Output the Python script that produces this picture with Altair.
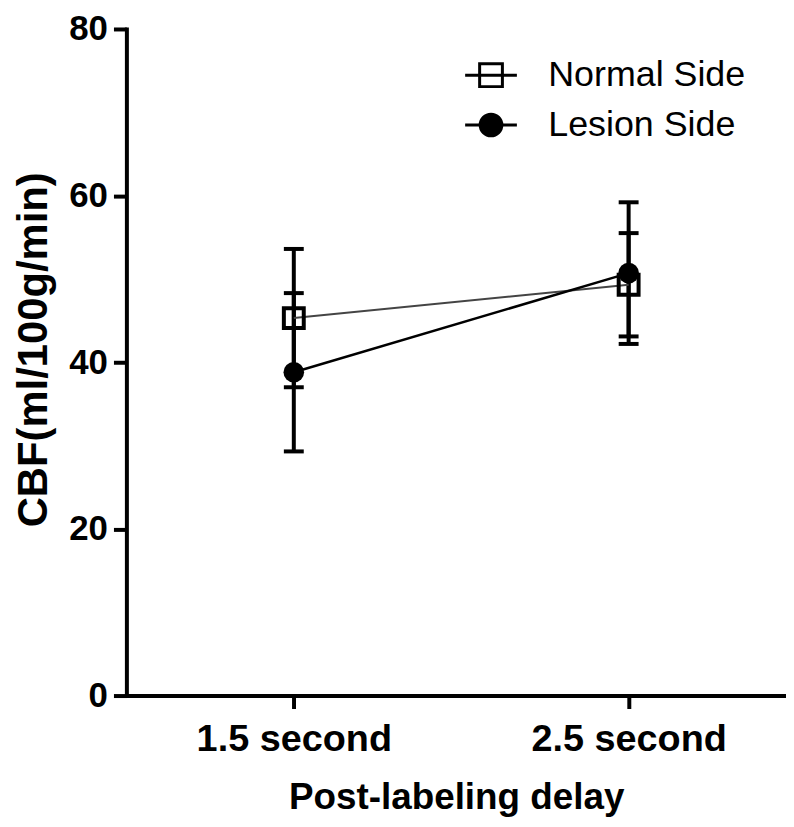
import altair as alt
import pandas as pd

# ---- data ----
delay = [1.5, 2.5]
series_names = ["Normal Side", "Lesion Side"]
normal_mean = [45.3, 49.3]
normal_sd = [8.3, 6.2]
lesion_mean = [38.8, 50.7]
lesion_sd = [9.5, 8.5]

rows = []
for name, means, sds in [("Normal Side", normal_mean, normal_sd),
                         ("Lesion Side", lesion_mean, lesion_sd)]:
    for d, m, s in zip(delay, means, sds):
        rows.append({"series": name, "delay": d, "mean": m, "low": m - s, "high": m + s})
df = pd.DataFrame(rows)

FONT = "Liberation Sans"

x_enc = alt.X(
    "delay:Q",
    scale=alt.Scale(domain=[1.0, 2.97], nice=False, zero=False),
    axis=alt.Axis(values=delay, labelExpr="datum.value + ' second'",
                  labelFontSize=38, titleFontSize=37, labelPadding=12,
                  titlePadding=22, labelFlush=False, labelLimit=0),
    title="Post-labeling delay",
)


def y_enc(field):
    return alt.Y(
        f"{field}:Q",
        scale=alt.Scale(domain=[0, 80], nice=False),
        axis=alt.Axis(values=[0, 20, 40, 60, 80], labelFontSize=35,
                      titleFontSize=42, labelPadding=6, titlePadding=13,
                      titleY=322, labelLimit=0),
        title="CBF(ml/100g/min)",
    )


base = alt.Chart(df)

err_rule = base.mark_rule(color="black", strokeWidth=4, opacity=1).encode(
    x=x_enc, y=y_enc("low"), y2="high:Q")
cap_low = base.mark_tick(color="black", orient="horizontal", size=20, thickness=4,
                         opacity=1).encode(x=x_enc, y=y_enc("low"))
cap_high = base.mark_tick(color="black", orient="horizontal", size=20, thickness=4,
                          opacity=1).encode(x=x_enc, y=y_enc("high"))

line_normal = base.transform_filter(alt.datum.series == "Normal Side").mark_line(
    color="#444444", strokeWidth=2).encode(x=x_enc, y=y_enc("mean"))
line_lesion = base.transform_filter(alt.datum.series == "Lesion Side").mark_line(
    color="black", strokeWidth=2.5).encode(x=x_enc, y=y_enc("mean"))

pt_normal = base.transform_filter(alt.datum.series == "Normal Side").mark_point(
    shape="square", size=400, filled=False, stroke="black", strokeWidth=4, opacity=1
).encode(x=x_enc, y=y_enc("mean"))
pt_lesion = base.transform_filter(alt.datum.series == "Lesion Side").mark_point(
    shape="circle", size=430, filled=True, color="black", opacity=1
).encode(x=x_enc, y=y_enc("mean"))

path_normal = "M-1,0H1M-0.44,-0.44H0.44V0.44H-0.44Z"
path_lesion = "M-1,0H1M-0.42,0A0.42,0.42,0,1,1,0.42,0A0.42,0.42,0,1,1,-0.42,0Z"

legend_props = dict(
    orient="none", legendX=339, legendY=19, title=None,
    symbolSize=2704, symbolStrokeWidth=3, symbolOpacity=1,
    labelFont=FONT, labelFontSize=36, labelFontWeight="normal",
    labelColor="black", labelOffset=30, rowPadding=4, padding=0, labelLimit=0,
)

# legend-only layer: draws no marks (all rows filtered out), keeps the legend
legend_layer = base.transform_filter("false").mark_point(
    opacity=1, filled=True, strokeWidth=3).encode(
    x=x_enc, y=y_enc("mean"),
    shape=alt.Shape("series:N", scale=alt.Scale(domain=series_names, range=[path_normal, path_lesion]),
                    legend=alt.Legend(**legend_props)),
    fill=alt.Fill("series:N", scale=alt.Scale(domain=series_names, range=["transparent", "black"]),
                  legend=alt.Legend(**legend_props)),
    stroke=alt.Stroke("series:N", scale=alt.Scale(domain=series_names, range=["black", "black"]),
                      legend=alt.Legend(**legend_props)),
)

chart = alt.layer(
    err_rule, cap_low, cap_high, line_normal, line_lesion, pt_normal, pt_lesion, legend_layer
).properties(
    width=663, height=670,
    autosize=alt.AutoSizeParams(type="none"),
    padding={"left": 119, "top": 19, "right": 0, "bottom": 122},
).configure_view(stroke=None).configure_axis(
    domainColor="black", domainWidth=4, domainCap="square",
    tickColor="black", tickWidth=4, tickSize=13,
    labelFont=FONT, labelFontWeight="bold", labelColor="black",
    titleFont=FONT, titleFontWeight="bold", titleColor="black",
    grid=False,
)

chart.save("out.html", embed_options={"renderer": "svg", "actions": False})
